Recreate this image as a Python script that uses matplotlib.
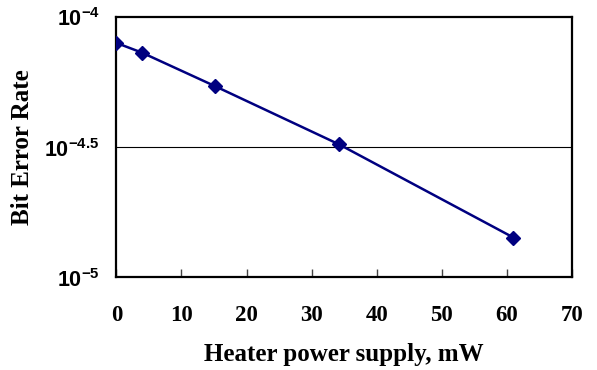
import numpy as np
import matplotlib.pyplot as plt

plt.rcParams['mathtext.fontset'] = 'custom'
plt.rcParams['mathtext.rm'] = 'Liberation Sans'
plt.rcParams['mathtext.bf'] = 'Liberation Sans:bold'

# data
power = [0, 3.9, 15.1, 34.2, 61]
ber = [7.95e-5, 7.3e-5, 5.43e-5, 3.24e-5, 1.42e-5]

xticks = [0, 10, 20, 30, 40, 50, 60, 70]
yticks = [1e-5, 10 ** -4.5, 1e-4]
ylabels = [r'$\mathbf{10^{-5}}$', r'$\mathbf{10^{-4.5}}$', r'$\mathbf{10^{-4}}$']

fig = plt.figure(figsize=(5.97, 3.70), dpi=100)
ax = fig.add_axes([0.195, 0.251, 0.763, 0.703])

ax.plot(power, ber, color='#000080', lw=1.8, marker='D', ms=7, zorder=3)
ax.axhline(10 ** -4.5, color='black', lw=0.8, zorder=1)

ax.set_yscale('log')
ax.set_xlim(0, 70)
ax.set_ylim(1e-5, 1e-4)
ax.minorticks_off()

ax.set_xticks(xticks)
ax.set_xticklabels([str(t) for t in xticks], fontfamily='Liberation Serif',
                   fontweight='bold', fontsize=16.5)
ax.set_yticks(yticks)
ax.set_yticklabels(ylabels, fontsize=15.5)

ax.tick_params(axis='x', direction='in', length=6, width=1, color='#444444', pad=20)
ax.tick_params(axis='y', length=0, pad=12)

for s in ax.spines.values():
    s.set_linewidth(1.6)
    s.set_color('black')

ax.set_xlabel('Heater power supply, mW', fontfamily='Liberation Serif',
              fontweight='bold', fontsize=18, labelpad=12)
ax.set_ylabel('Bit Error Rate', fontfamily='Liberation Serif',
              fontweight='bold', fontsize=18)
ax.yaxis.set_label_coords(-0.182, 0.5)

plt.savefig('out.png', dpi=100)
